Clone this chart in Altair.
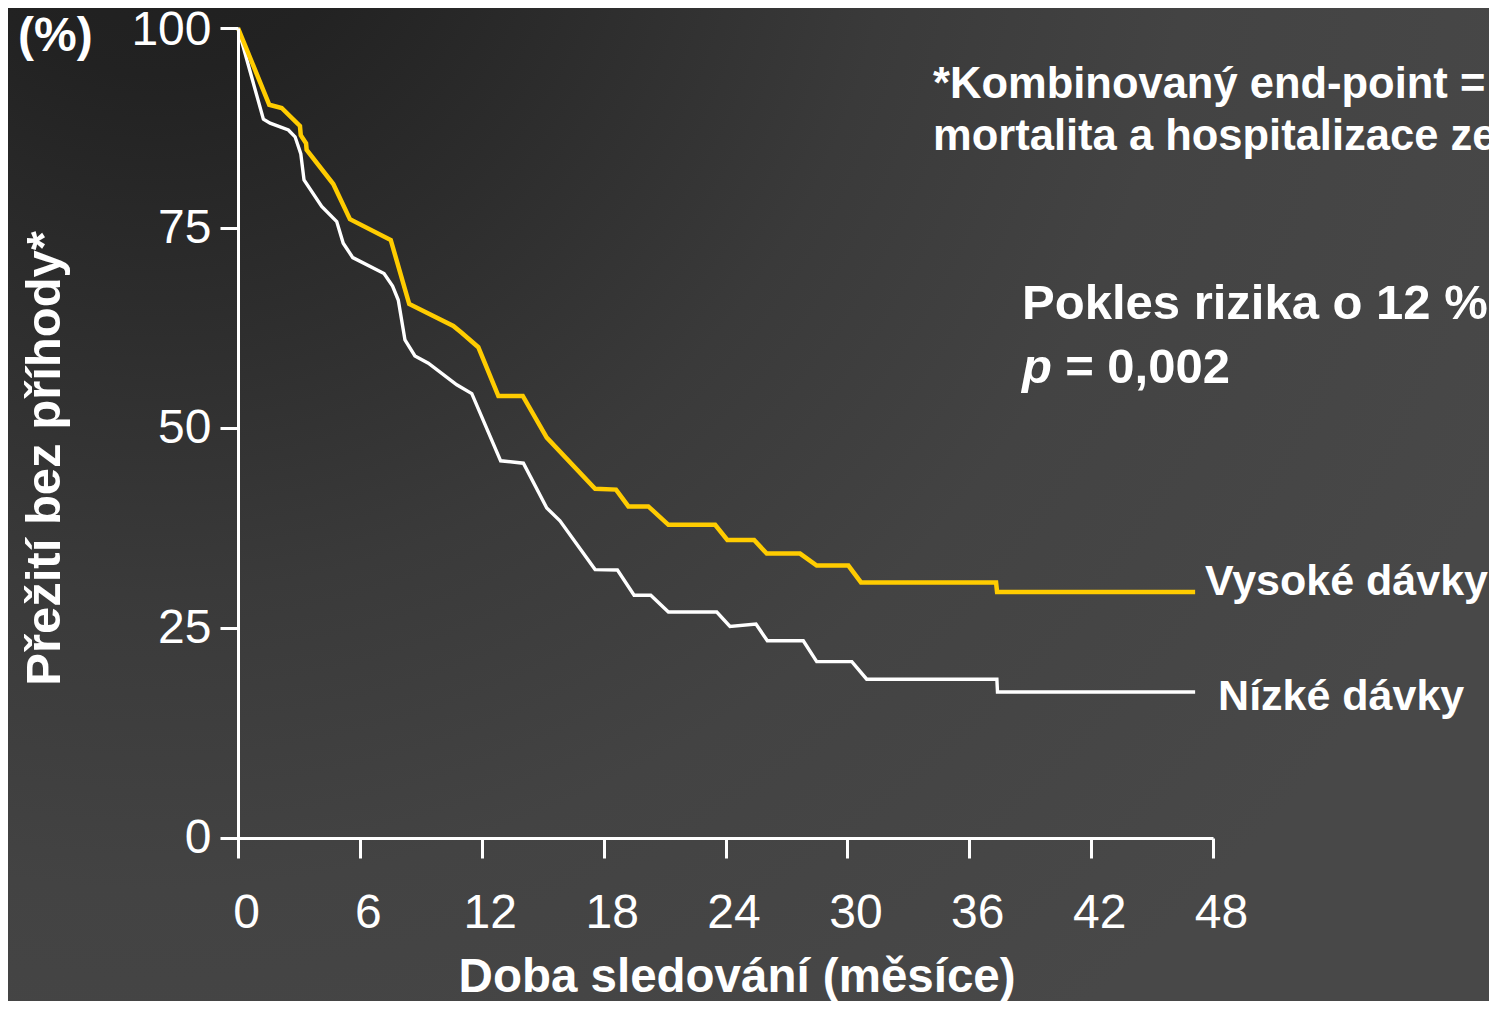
import altair as alt
import pandas as pd

# ---- data (months, % event-free survival) ----
months_high = [0, 1.54, 2.15, 3.05, 3.09, 3.35, 3.38, 4.69, 5.51, 7.52, 8.43, 10.6, 11.01,
               11.83, 12.82, 14.02, 15.2, 17.58, 18.61, 19.22, 20.2, 21.19, 23.49, 24.09,
               25.41, 26.03, 27.67, 28.49, 30.05, 30.67, 37.32, 37.37, 47.12]
surv_high = [100, 90.4, 90.0, 87.75, 86.6, 85.6, 84.75, 80.5, 76.1, 73.5, 65.5, 62.75, 61.9,
             60.1, 54.0, 54.0, 48.8, 42.4, 42.3, 40.2, 40.2, 37.9, 37.9, 36.0,
             36.0, 34.3, 34.3, 32.8, 32.8, 30.7, 30.7, 29.5, 29.5]

months_low = [0, 1.25, 1.58, 2.48, 2.81, 3.09, 3.25, 4.12, 4.86, 5.18, 5.65, 7.19, 7.61, 7.89,
              8.22, 8.71, 9.37, 10.77, 11.51, 12.93, 14.05, 15.2, 15.85, 17.58, 18.68, 19.5,
              20.32, 21.19, 23.57, 24.22, 25.5, 26.06, 27.83, 28.49, 30.22, 30.95, 37.36,
              37.39, 47.12]
surv_low = [100, 88.6, 88.1, 87.25, 86.4, 84.3, 81.0, 77.7, 75.8, 73.1, 71.3, 69.3, 67.75, 66.0,
            61.0, 59.0, 58.1, 55.4, 54.3, 45.9, 45.6, 40.0, 38.4, 32.3, 32.25, 29.1,
            29.1, 27.0, 27.0, 25.2, 25.5, 23.4, 23.4, 20.8, 20.8, 18.6, 18.6,
            17.0, 17.0]

x_ticks = [0, 6, 12, 18, 24, 30, 36, 42, 48]
y_ticks = [0, 25, 50, 75, 100]

series_names = ["Vysoké dávky", "Nízké dávky"]
y_title = "Přežití bez příhody*"
x_title = "Doba sledování (měsíce)"
unit_label = "(%)"
note_lines = ["*Kombinovaný end-point =", "mortalita a hospitalizace ze"]
risk_text = "Pokles rizika o 12 %"
p_symbol = "p"
p_value_text = "= 0,002"

# ---- layout ----
FONT = "Liberation Sans"
W, H = 993, 810
PAD = {"left": 212, "top": 20, "right": 276, "bottom": 163}
YELLOW = "#FFCC00"

xscale = alt.Scale(domain=[-0.8862, 48], nice=False, zero=False)
yscale = alt.Scale(domain=[-1.25, 100], nice=False, zero=False)

xaxis = alt.Axis(values=x_ticks, title=None, grid=False, domainColor="white", domainWidth=3,
                 tickColor="white", tickWidth=3, tickSize=20, labelColor="white",
                 labelFont=FONT, labelFontSize=48, labelPadding=31, labelOffset=8,
                 labelFlush=False, labelOverlap=False, zindex=1)
yaxis = alt.Axis(values=y_ticks, title=None, grid=False, offset=-18, domainColor="white",
                 domainWidth=3, tickColor="white", tickWidth=3, tickSize=18,
                 tickOpacity={"condition": {"test": "datum.value === 0", "value": 0}, "value": 1},
                 labelOffset={"condition": [{"test": "datum.value === 0", "value": 10},
                                            {"test": "datum.value === 100", "value": 2}],
                              "value": 0},
                 labelColor="white", labelFont=FONT, labelFontSize=48, labelPadding=9,
                 labelFlush=False, labelOverlap=False, zindex=1)

def X():
    return alt.X("m:Q", scale=xscale, axis=xaxis)

def Y():
    return alt.Y("s:Q", scale=yscale, axis=yaxis)

high = pd.DataFrame({"m": months_high, "s": surv_high, "i": range(len(months_high))})
low = pd.DataFrame({"m": months_low, "s": surv_low, "i": range(len(months_low))})

bg_fill = {
    "gradient": "radial", "x1": 0.1, "y1": 0.06, "r1": 0, "x2": 0.1, "y2": 0.06, "r2": 1,
    "stops": [
        {"offset": 0, "color": "#1e1e1e"},
        {"offset": 0.15, "color": "#222222"},
        {"offset": 0.3, "color": "#2c2c2c"},
        {"offset": 0.5, "color": "#3a3a3a"},
        {"offset": 0.7, "color": "#434343"},
        {"offset": 1, "color": "#484848"},
    ],
}
bg = alt.Chart(pd.DataFrame({"a": [0]})).mark_rect(fill=bg_fill).encode(
    x=alt.value(-PAD["left"]), x2=alt.value(W + PAD["right"]),
    y=alt.value(-PAD["top"]), y2=alt.value(H + PAD["bottom"]))

line_low = alt.Chart(low).mark_line(color="white", strokeWidth=3.4).encode(
    x=X(), y=Y(), order="i:Q")
line_high = alt.Chart(high).mark_line(color=YELLOW, strokeWidth=4.5).encode(
    x=X(), y=Y(), order="i:Q")

def label(texts, ms, ss, size, align="left", baseline="alphabetic", style="normal", angle=0):
    df = pd.DataFrame({"t": texts, "m": ms, "s": ss})
    kw = dict(align=align, baseline=baseline, font=FONT, fontSize=size, fontWeight="bold",
              color="white", fontStyle=style)
    if angle:
        kw["angle"] = angle
    return alt.Chart(df).mark_text(**kw).encode(x=X(), y=Y(), text="t:N")

labels_series = label(series_names, [47.61, 48.25], [29.125, 14.75], 43)
note = label(note_lines, [34.22, 34.22], [91.25, 84.75], 43.5)
risk = label([risk_text], [38.6], [63.625], 49)
p_sym = label([p_symbol], [38.6], [55.625], 49, style="italic")
p_val = label([p_value_text], [40.72], [55.625], 49)
unit = label([unit_label], [-10.83], [97.1], 48)
xt = label([x_title], [24.57], [-20.5], 47.5, align="center")
yt = label([y_title], [-9.5], [46.2], 49, align="center", baseline="middle", angle=270)

chart = alt.layer(bg, line_low, line_high, labels_series, note, risk, p_sym, p_val, unit, xt, yt).properties(
    width=W, height=H, padding=PAD, autosize=alt.AutoSizeParams(type="none")
).configure_view(stroke=None).configure(background="#3a3a3a")

chart.save("out.html", embed_options={"renderer": "svg", "actions": False})
